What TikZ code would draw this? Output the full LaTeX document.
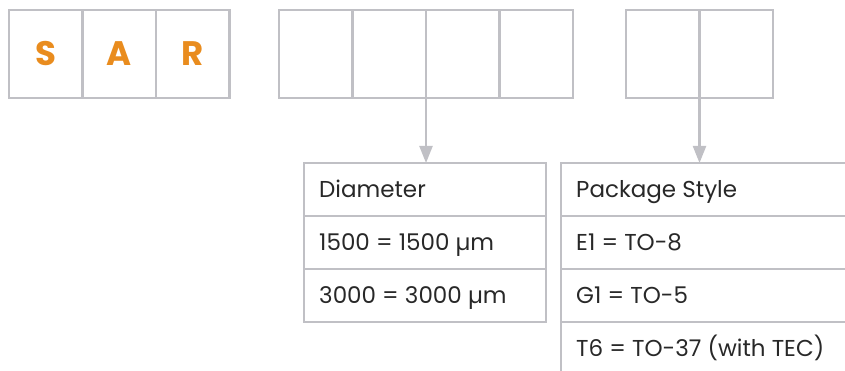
\documentclass[tikz,border=0pt]{standalone}
\usepackage{fontspec}
\setmainfont{Poppins}
\usetikzlibrary{positioning,arrows.meta}
\definecolor{boxgray}{RGB}{192,192,197}
\definecolor{sarorange}{RGB}{233,140,30}
\definecolor{txtgray}{RGB}{40,40,40}
\tikzset{
  cell/.style={draw=boxgray, line width=2.2pt, minimum width=73.5pt, minimum height=88pt,
    inner sep=0pt, outer sep=0pt, text=sarorange, font=\bfseries\fontsize{34}{34}\selectfont},
  row/.style={draw=boxgray, line width=2.2pt, minimum height=53pt, inner sep=0pt, outer sep=0pt},
  entry/.style={anchor=west, xshift=15pt, inner sep=0pt, text height=16pt, text depth=0pt,
    text=txtgray, font=\fontsize{23}{23}\selectfont},
  pointer/.style={draw=boxgray, line width=2.2pt, -{Triangle[width=13pt,length=17pt]}}
}
\begin{document}
\begin{tikzpicture}[x=1pt, y=-1pt]
\useasboundingbox (0,0) rectangle (845,371);
\clip (0,0) rectangle (845,371);
% Code-Felder
\node[cell] (s) at (45.75,54) {S};
\node[cell, right=0pt of s] (a) {A};
\node[cell, right=0pt of a] (r) {R};
\node[cell] (d1) at (315.75,54) {};
\node[cell, right=0pt of d1] (d2) {};
\node[cell, right=0pt of d2] (d3) {};
\node[cell, right=0pt of d3] (d4) {};
\node[cell] (p1) at (662.75,54) {};
\node[cell, right=0pt of p1] (p2) {};
% Durchmesser
\node[row, minimum width=242pt, anchor=north west] (diam) at (304,163) {};
\node[row, minimum width=242pt, below=0pt of diam] (diamA) {};
\node[row, minimum width=242pt, below=0pt of diamA] (diamB) {};
\node[entry] (tDiam) at (diam.west) {Diameter};
\node[entry] (tDiamA) at (diamA.west) {1500 = 1500 µm};
\node[entry] (tDiamB) at (diamB.west) {3000 = 3000 µm};
% Gehaeuse
\node[row, minimum width=340pt, anchor=north west] (pkg) at (561,163) {};
\node[row, minimum width=340pt, below=0pt of pkg] (pkgE) {};
\node[row, minimum width=340pt, below=0pt of pkgE] (pkgG) {};
\node[row, minimum width=340pt, below=0pt of pkgG] (pkgT) {};
\node[entry] (tPkg) at (pkg.west) {Package Style};
\node[entry] (tPkgE) at (pkgE.west) {E1 = TO-8};
\node[entry] (tPkgG) at (pkgG.west) {G1 = TO-5};
\node[entry] (tPkgT) at (pkgT.west) {T6 = TO-37 (with TEC)};
% Pfeile
\draw[pointer] (d2.south east) -- (d2.south east |- diam.north);
\draw[pointer] (p1.south east) -- (p1.south east |- pkg.north);
\end{tikzpicture}
\end{document}
